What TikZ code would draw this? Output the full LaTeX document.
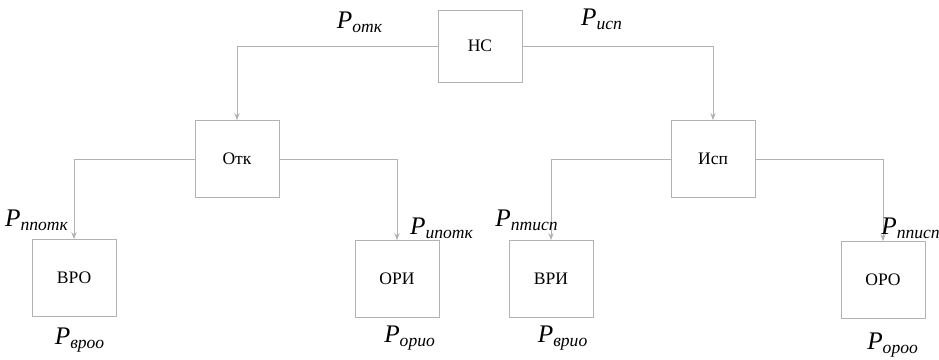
\documentclass[tikz,border=0pt]{standalone}
\usepackage{fontspec}
\setmainfont{Liberation Serif}
\usetikzlibrary{arrows.meta, positioning}

\newcommand{\prb}[1]{\textit{P}\textsubscript{\textit{#1}}}

\begin{document}
\begin{tikzpicture}[x=0.02cm, y=-0.02cm,
        every node/.style={align=center, font=\normalsize},
        box/.style={draw=gray!60, minimum width=1.68cm,
                    minimum height=1.54cm, inner sep=2pt},
        arr/.style={-{Stealth[length=4pt, width=3pt]}, draw=gray!60, line width=0.5pt},
        prob/.style={font=\Large, inner sep=1pt}
    ]
        \useasboundingbox (0,0) rectangle (939,359);
        % boxes
        \node[box, minimum height=1.44cm] (nc)  at (480,46)  {НС};
        \node[box] (otk) at (237,159) {Отк};
        \node[box] (isp) at (713,159) {Исп};
        \node[box] (vro) at (74,278)  {ВРО};
        \node[box] (ori) at (397,279) {ОРИ};
        \node[box] (vri) at (551,279) {ВРИ};
        \node[box] (oro) at (883,280) {ОРО};
        % connectors
        \draw[arr] (nc.west)  -| (otk.north);
        \draw[arr] (nc.east)  -| (isp.north);
        \draw[arr] (otk.west) -| (vro.north);
        \draw[arr] (otk.east) -| (ori.north);
        \draw[arr] (isp.west) -| (vri.north);
        \draw[arr] (isp.east) -| (oro.north);
        % probabilities
        \node[prob] (potk)   at (360,22)  {\prb{отк}};
        \node[prob] (pisp)   at (602,19)  {\prb{исп}};
        \node[prob] (ppotk)  at (37,220)  {\prb{ппотк}};
        \node[prob] (pipotk) at (442,228) {\prb{ипотк}};
        \node[prob] (ptisp)  at (527,220) {\prb{птисп}};
        \node[prob] (ppisp)  at (911,228) {\prb{пписп}};
        \node[prob] (pvroo)  at (80,340)  {\prb{вроо}};
        \node[prob] (porio)  at (410,338) {\prb{орио}};
        \node[prob] (pvrio)  at (563,338) {\prb{врио}};
        \node[prob] (poroo)  at (893,345) {\prb{ороо}};
    \end{tikzpicture}
\end{document}
